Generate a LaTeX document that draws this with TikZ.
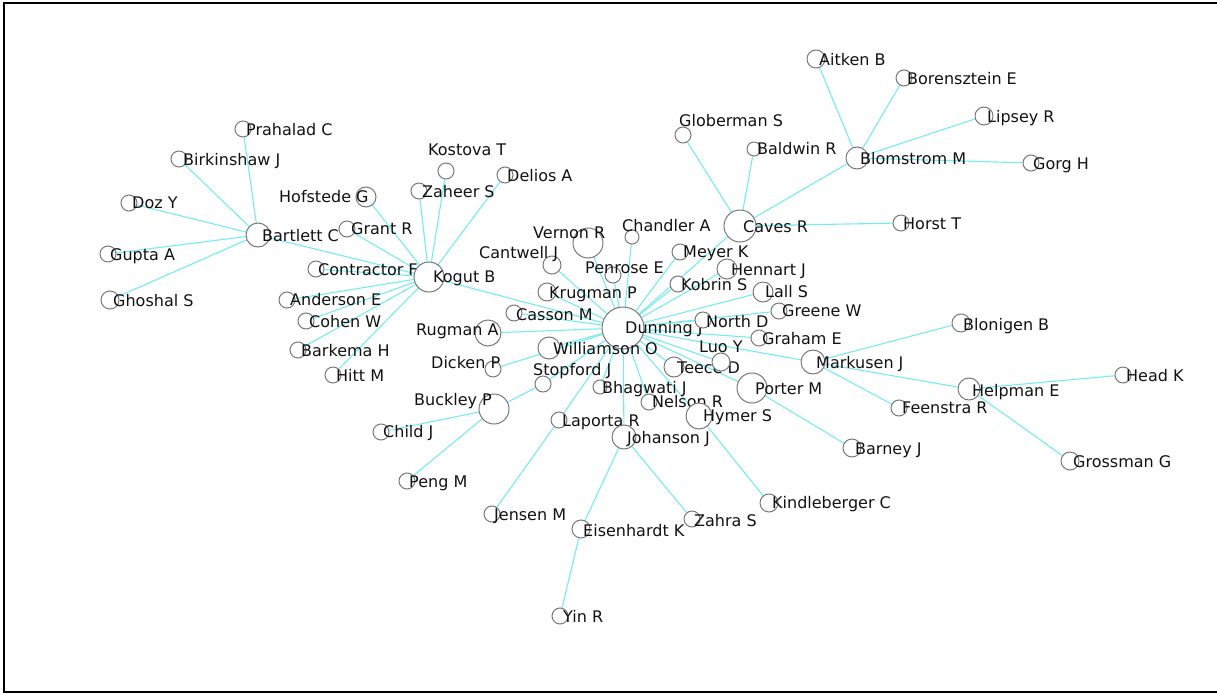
\documentclass[tikz,border=0pt]{standalone}
\usepackage{fontspec}
\setmainfont{DejaVu Sans}
\usetikzlibrary{backgrounds}
\definecolor{edgecol}{RGB}{118,236,236}
\definecolor{circcol}{RGB}{120,120,120}
\definecolor{txtcol}{RGB}{18,18,18}
\tikzset{
  pt/.style={circle, draw=circcol, fill=white, line width=1pt, inner sep=0pt},
  lbl/.style={anchor=base west, inner sep=0pt, text=txtcol, font=\fontsize{16}{19}\selectfont},
  edge/.style={draw=edgecol, line width=1.1pt},
  frame/.style={draw=black, line width=1.8pt}
}
\newcommand{\mkperson}[7]{%
  \node[pt, minimum size=#4*2pt] (#1) at (#2,#3) {};
  \node[lbl] (#1-l) at (#5,#6+5.8) {#7};
}
\begin{document}
\begin{tikzpicture}[x=1pt,y=-1pt]
\useasboundingbox (0,0) rectangle (1217,695);
\coordinate (fTR) at (1217,3);
\coordinate (fTL) at (4,3);
\coordinate (fBL) at (4,692);
\coordinate (fBR) at (1217,692);
\draw[frame] (fTR) -- (fTL) -- (fBL) -- (fBR);

\mkperson{Bartlett}{258}{235}{12}{262}{236}{Bartlett C}
\mkperson{Prahalad}{243}{129}{8}{246}{130}{Prahalad C}
\mkperson{Birkinshaw}{179}{159}{8}{183}{160}{Birkinshaw J}
\mkperson{Doz}{129}{203}{8}{132}{203}{Doz Y}
\mkperson{Gupta}{108}{254}{8}{110}{255}{Gupta A}
\mkperson{Ghoshal}{110}{300}{9}{113}{301}{Ghoshal S}
\mkperson{Hofstede}{366}{197}{10}{279}{197}{Hofstede G}
\mkperson{Grant}{347}{229}{8}{351}{229}{Grant R}
\mkperson{Contractor}{316}{269}{8}{318}{270}{Contractor F}
\mkperson{Anderson}{287}{300}{8}{290}{300}{Anderson E}
\mkperson{Cohen}{306}{321}{8}{309}{322}{Cohen W}
\mkperson{Barkema}{298}{350}{8}{301}{351}{Barkema H}
\mkperson{Hitt}{333}{375}{8}{336}{376}{Hitt M}
\mkperson{Kogut}{429}{277}{15}{433}{277}{Kogut B}
\mkperson{Kostova}{446}{171}{8}{428}{150}{Kostova T}
\mkperson{Zaheer}{419}{191}{8}{422}{192}{Zaheer S}
\mkperson{Delios}{505}{175}{8}{507}{176}{Delios A}
\mkperson{Vernon}{588}{243}{15}{533}{233}{Vernon R}
\mkperson{Chandler}{632}{237}{7}{622}{226}{Chandler A}
\mkperson{Cantwell}{552}{265}{9}{479}{253}{Cantwell J}
\mkperson{Penrose}{613}{275}{8}{585}{268}{Penrose E}
\mkperson{Krugman}{547}{292}{9}{549}{293}{Krugman P}
\mkperson{Casson}{514}{313}{8}{516}{315}{Casson M}
\mkperson{Rugman}{488}{333}{13}{416}{330}{Rugman A}
\mkperson{Dunning}{623}{328}{21}{625}{328}{Dunning J}
\mkperson{Williamson}{549}{348}{11}{553}{349}{Williamson O}
\mkperson{Dicken}{493}{369}{8}{431}{363}{Dicken P}
\mkperson{Stopford}{543}{384}{8}{533}{370}{Stopford J}
\mkperson{Buckley}{494}{409}{15}{414}{400}{Buckley P}
\mkperson{Child}{381}{432}{8}{383}{432}{Child J}
\mkperson{Peng}{407}{481}{8}{409}{482}{Peng M}
\mkperson{Bhagwati}{600}{387}{7}{602}{388}{Bhagwati J}
\mkperson{Nelson}{649}{402}{8}{652}{402}{Nelson R}
\mkperson{Laporta}{559}{420}{8}{562}{421}{Laporta R}
\mkperson{Johanson}{624}{437}{12}{627}{438}{Johanson J}
\mkperson{Hymer}{699}{416}{13}{703}{416}{Hymer S}
\mkperson{Jensen}{492}{514}{8}{494}{515}{Jensen M}
\mkperson{Eisenhardt}{581}{529}{9}{583}{531}{Eisenhardt K}
\mkperson{Zahra}{692}{519}{8}{694}{521}{Zahra S}
\mkperson{Kindleberger}{769}{503}{9}{772}{503}{Kindleberger C}
\mkperson{Yin}{560}{616}{8}{563}{617}{Yin R}
\mkperson{Teece}{674}{367}{10}{677}{368}{Teece D}
\mkperson{Luo}{721}{362}{9}{699}{347}{Luo Y}
\mkperson{Porter}{752}{388}{15}{755}{389}{Porter M}
\mkperson{Barney}{852}{448}{9}{855}{449}{Barney J}
\mkperson{North}{703}{320}{8}{706}{322}{North D}
\mkperson{Graham}{759}{338}{8}{762}{339}{Graham E}
\mkperson{Greene}{779}{311}{8}{782}{311}{Greene W}
\mkperson{Lall}{763}{292}{10}{765}{292}{Lall S}
\mkperson{Kobrin}{678}{284}{8}{681}{285}{Kobrin S}
\mkperson{Hennart}{727}{269}{10}{731}{270}{Hennart J}
\mkperson{Meyer}{680}{252}{8}{683}{252}{Meyer K}
\mkperson{Caves}{740}{226}{16}{743}{227}{Caves R}
\mkperson{Globerman}{683}{135}{8}{679}{121}{Globerman S}
\mkperson{Baldwin}{754}{149}{7}{757}{149}{Baldwin R}
\mkperson{Blomstrom}{857}{158}{11}{860}{159}{Blomstrom M}
\mkperson{Aitken}{816}{59}{9}{819}{60}{Aitken B}
\mkperson{Borensztein}{904}{78}{8}{907}{79}{Borensztein E}
\mkperson{Lipsey}{984}{116}{9}{987}{117}{Lipsey R}
\mkperson{Gorg}{1031}{163}{8}{1033}{164}{Gorg H}
\mkperson{Horst}{901}{223}{8}{903}{224}{Horst T}
\mkperson{Markusen}{813}{362}{12}{816}{363}{Markusen J}
\mkperson{Blonigen}{961}{323}{9}{963}{325}{Blonigen B}
\mkperson{Helpman}{969}{389}{11}{972}{391}{Helpman E}
\mkperson{Head}{1123}{375}{8}{1126}{376}{Head K}
\mkperson{Feenstra}{899}{408}{8}{902}{408}{Feenstra R}
\mkperson{Grossman}{1070}{461}{9}{1073}{462}{Grossman G}

\begin{scope}[on background layer]
\foreach \b in {Prahalad,Birkinshaw,Doz,Gupta,Ghoshal,Kogut}
  \draw[edge] (Bartlett) -- (\b);
\foreach \b in {Hofstede,Grant,Zaheer,Kostova,Delios,Contractor,Anderson,Cohen,Barkema,Hitt,Dunning}
  \draw[edge] (Kogut) -- (\b);
\foreach \b in {Vernon,Chandler,Cantwell,Penrose,Krugman,Casson,Rugman,Williamson,Dicken,Stopford,Laporta,Bhagwati,Johanson,Nelson,Hymer,Teece,Luo,Porter,Markusen,Graham,North,Greene,Lall,Kobrin,Hennart,Meyer,Caves}
  \draw[edge] (Dunning) -- (\b);
\foreach \b in {Stopford,Child,Peng}
  \draw[edge] (Buckley) -- (\b);
\draw[edge] (Laporta) -- (Jensen);
\foreach \b in {Eisenhardt,Zahra}
  \draw[edge] (Johanson) -- (\b);
\draw[edge] (Eisenhardt) -- (Yin);
\draw[edge] (Hymer) -- (Kindleberger);
\draw[edge] (Porter) -- (Barney);
\foreach \b in {Blonigen,Helpman,Feenstra}
  \draw[edge] (Markusen) -- (\b);
\foreach \b in {Head,Grossman}
  \draw[edge] (Helpman) -- (\b);
\foreach \b in {Globerman,Baldwin,Blomstrom,Horst}
  \draw[edge] (Caves) -- (\b);
\foreach \b in {Aitken,Borensztein,Lipsey,Gorg}
  \draw[edge] (Blomstrom) -- (\b);
\end{scope}
\end{tikzpicture}
\end{document}
